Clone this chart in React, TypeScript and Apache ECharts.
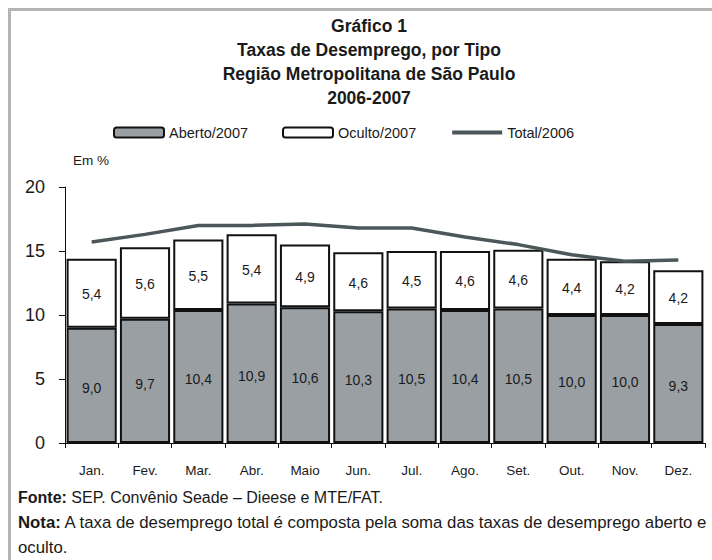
import React, { useEffect, useRef } from "react";
import * as echarts from "echarts";

const months = ["Jan.", "Fev.", "Mar.", "Abr.", "Maio", "Jun.", "Jul.", "Ago.", "Set.", "Out.", "Nov.", "Dez."];
const aberto2007 = [9.0, 9.7, 10.4, 10.9, 10.6, 10.3, 10.5, 10.4, 10.5, 10.0, 10.0, 9.3];
const oculto2007 = [5.4, 5.6, 5.5, 5.4, 4.9, 4.6, 4.5, 4.6, 4.6, 4.4, 4.2, 4.2];
const total2006 = [15.7, 16.3, 17.0, 17.0, 17.1, 16.8, 16.8, 16.1, 15.5, 14.7, 14.2, 14.3];
const yTicks = { min: 0, max: 20, interval: 5 };
const titleLines = [
  "Gráfico 1",
  "Taxas de Desemprego, por Tipo",
  "Região Metropolitana de São Paulo",
  "2006-2007",
];

const SANS = '"Liberation Sans", Arial, sans-serif';
const fmt = (v: number) => v.toFixed(1).replace(".", ",");

export default function App() {
  const ref = useRef<HTMLDivElement>(null);
  useEffect(() => {
    if (!ref.current) return;
    const chart = echarts.init(ref.current, undefined, { renderer: "svg" });
    const textColor = "#1a1a1a";
    const barBorder = { borderColor: "#111111", borderWidth: 2 };
    const lineColor = "#4b5759";
    const barLabel = (dy: number) => ({
      show: true,
      position: "inside",
      offset: [0, dy],
      formatter: (p: any) => fmt(p.value),
      fontFamily: SANS,
      fontSize: 14,
      color: textColor,
    });
    chart.setOption({
      animation: false,
      backgroundColor: "#ffffff",
      grid: { left: 65, right: 7, top: 187, bottom: 117, containLabel: false },
      legend: {
        left: 113,
        top: 125,
        padding: 0,
        itemWidth: 50,
        itemHeight: 10,
        itemGap: 34,
        textStyle: { fontFamily: SANS, fontSize: 14.5, color: textColor },
        data: [
          { name: "Aberto/2007", itemStyle: { borderColor: "#111", borderWidth: 2 } },
          { name: "Oculto/2007", itemStyle: { borderColor: "#111", borderWidth: 2 } },
          {
            name: "Total/2006",
            itemStyle: { opacity: 0 },
            lineStyle: { color: lineColor, width: 4 },
          },
        ],
      },
      xAxis: {
        type: "category",
        data: months,
        boundaryGap: true,
        axisLine: { show: true, lineStyle: { color: "#111", width: 1 } },
        axisTick: { show: true, length: 5, alignWithLabel: false, lineStyle: { color: "#111" } },
        axisLabel: { fontFamily: SANS, fontSize: 13.5, color: textColor, margin: 20 },
      },
      yAxis: {
        type: "value",
        min: yTicks.min,
        max: yTicks.max,
        interval: yTicks.interval,
        splitLine: { show: false },
        axisLine: { show: true, lineStyle: { color: "#111", width: 1 } },
        axisTick: { show: true, length: 6, lineStyle: { color: "#111" } },
        axisLabel: { fontFamily: SANS, fontSize: 18, color: textColor, margin: 20 },
      },
      series: [
        {
          name: "Aberto/2007",
          type: "bar",
          stack: "t",
          data: aberto2007,
          barCategoryGap: "6%",
          itemStyle: { color: "#9a9fa4", ...barBorder },
          label: barLabel(3),
        },
        {
          name: "Oculto/2007",
          type: "bar",
          stack: "t",
          data: oculto2007,
          barCategoryGap: "6%",
          itemStyle: { color: "#ffffff", ...barBorder },
          label: barLabel(1),
        },
        {
          name: "Total/2006",
          type: "line",
          data: total2006,
          symbol: "none",
          showSymbol: false,
          z: 5,
          lineStyle: { color: lineColor, width: 3.5 },
          itemStyle: { color: lineColor },
        },
      ],
      graphic: [
        {
          type: "polyline",
          shape: { points: [[9.5, 560], [9.5, 9.5], [712, 9.5]] },
          style: { stroke: "#b4b4b4", lineWidth: 3, fill: null },
          silent: true,
        },
        ...titleLines.map((t, i) => ({
          type: "text",
          x: 369,
          y: 26 + i * 24,
          style: {
            text: t,
            textAlign: "center",
            textVerticalAlign: "middle",
            fontFamily: SANS,
            fontWeight: "bold",
            fontSize: 17.5,
            fill: textColor,
          },
        })),
        {
          type: "text",
          x: 73,
          y: 160,
          style: {
            text: "Em %",
            textVerticalAlign: "middle",
            fontFamily: SANS,
            fontSize: 13.5,
            fill: textColor,
          },
        },
        {
          type: "text",
          x: 18,
          y: 497,
          style: {
            text: "{b|Fonte:} SEP. Convênio Seade – Dieese e MTE/FAT.",
            textVerticalAlign: "middle",
            fontFamily: SANS,
            fontSize: 16,
            fill: textColor,
            rich: { b: { fontFamily: SANS, fontSize: 16, fontWeight: "bold", fill: textColor } },
          },
        },
        {
          type: "text",
          x: 18,
          y: 522,
          style: {
            text: "{b|Nota:} A taxa de desemprego total é composta pela soma das taxas de desemprego aberto e",
            textVerticalAlign: "middle",
            fontFamily: SANS,
            fontSize: 16.8,
            fill: textColor,
            rich: { b: { fontFamily: SANS, fontSize: 16.8, fontWeight: "bold", fill: textColor } },
          },
        },
        {
          type: "text",
          x: 18,
          y: 547,
          style: {
            text: "oculto.",
            textVerticalAlign: "middle",
            fontFamily: SANS,
            fontSize: 16.8,
            fill: textColor,
          },
        },
      ],
    });
    return () => chart.dispose();
  }, []);
  return (
    <div style={{ position: "fixed", left: 0, top: 0, width: 712, height: 560, background: "#fff" }}>
      <div ref={ref} style={{ width: 712, height: 560 }} />
    </div>
  );
}
